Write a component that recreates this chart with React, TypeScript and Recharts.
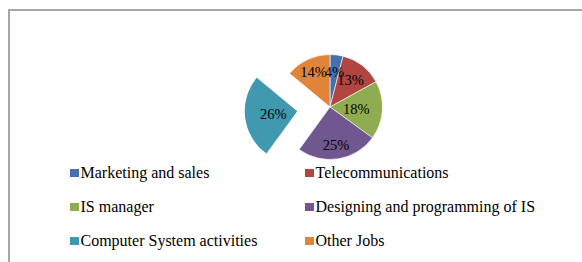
import React from "react";
import { PieChart, Pie, Cell, Legend } from "recharts";

const categories = [
  "Marketing and sales",
  "Telecommunications",
  "IS manager",
  "Designing and programming of IS",
  "Computer System activities",
  "Other Jobs",
];
const shares = [4, 13, 18, 25, 26, 14];
const explodedCategory = "Computer System activities";

const COLORS = ["#4471AE", "#B04542", "#8FAD50", "#71578F", "#4199B0", "#E0843A"];
const LABEL_RADIUS = [0.67, 0.64, 0.5, 0.74, 0.46, 0.74];

const data = categories.map((name, i) => ({ name, value: shares[i] }));

const W = 582;
const H = 262;
const CX = 330;
const CY = 107;
const R = 52.5;
const EXPLODE = 33;
const RAD = Math.PI / 180;

const total = shares.reduce((a, b) => a + b, 0);
const exIdx = categories.indexOf(explodedCategory);
const before = shares.slice(0, exIdx).reduce((a, b) => a + b, 0);
const midFrac = (before + shares[exIdx] / 2) / total;
const midAng = 90 - 360 * midFrac;
const CX2 = CX + EXPLODE * Math.cos(midAng * RAD);
const CY2 = CY - EXPLODE * Math.sin(midAng * RAD);

const FONT = '"Liberation Serif", "Times New Roman", serif';

const makeLabel = (only: "main" | "exploded") => (props: any) => {
  const { cx, cy, midAngle, outerRadius, index, value } = props;
  const isEx = index === exIdx;
  if ((only === "main" && isEx) || (only === "exploded" && !isEx)) return null;
  const k = LABEL_RADIUS[index];
  const x = cx + outerRadius * k * Math.cos(-midAngle * RAD);
  const y = cy + outerRadius * k * Math.sin(-midAngle * RAD);
  return (
    <text
      x={x}
      y={y}
      textAnchor="middle"
      dominantBaseline="central"
      fontFamily={FONT}
      fontSize={14.5}
      fill="#000"
    >
      {`${value}%`}
    </text>
  );
};

const renderLegend = () => (
  <div
    style={{
      display: "grid",
      gridTemplateColumns: "235px 235px",
      gridAutoRows: "34px",
      fontFamily: FONT,
      fontSize: 16,
      color: "#000",
    }}
  >
    {categories.map((c, i) => (
      <div key={c} style={{ display: "flex", alignItems: "center", height: 34 }}>
        <span
          style={{
            display: "inline-block",
            width: 8.5,
            height: 8.5,
            background: COLORS[i],
            marginRight: 2,
          }}
        />
        <span style={{ lineHeight: "16px", whiteSpace: "nowrap" }}>{c}</span>
      </div>
    ))}
  </div>
);

export default function App() {
  return (
    <div style={{ position: "absolute", left: 0, top: 0, width: W, height: H, background: "#fff" }}>
      <div
        style={{
          position: "absolute",
          left: 8,
          top: 9,
          width: W - 8,
          height: H - 9,
          borderTop: "2px solid #a6a6a6",
          borderLeft: "2px solid #a6a6a6",
          boxSizing: "border-box",
        }}
      />
      <div style={{ position: "absolute", left: 0, top: 0 }}>
        <PieChart width={W} height={H} margin={{ top: 0, right: 0, bottom: 0, left: 0 }}>
          <Pie
            data={data}
            dataKey="value"
            nameKey="name"
            cx={CX}
            cy={CY}
            outerRadius={R}
            startAngle={90}
            endAngle={-270}
            isAnimationActive={false}
            label={makeLabel("main")}
            labelLine={false}
            stroke="#fff"
            strokeWidth={0.6}
          >
            {data.map((d, i) => (
              <Cell
                key={d.name}
                fill={i === exIdx ? "transparent" : COLORS[i]}
                stroke={i === exIdx ? "none" : "#fff"}
              />
            ))}
          </Pie>
          <Pie
            data={data}
            dataKey="value"
            nameKey="name"
            cx={CX2}
            cy={CY2}
            outerRadius={R}
            startAngle={90}
            endAngle={-270}
            isAnimationActive={false}
            label={makeLabel("exploded")}
            labelLine={false}
            legendType="none"
          >
            {data.map((d, i) => (
              <Cell
                key={d.name}
                fill={i === exIdx ? COLORS[i] : "transparent"}
                stroke="none"
              />
            ))}
          </Pie>
          <Legend
            content={renderLegend}
            wrapperStyle={{ position: "absolute", left: 70, top: 156, width: 480 }}
          />
        </PieChart>
      </div>
    </div>
  );
}
